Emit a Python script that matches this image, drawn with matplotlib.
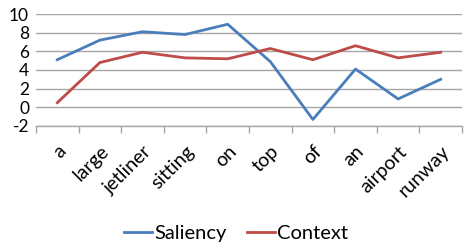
import matplotlib
matplotlib.use("Agg")
import matplotlib.pyplot as plt
import numpy as np

words = ["a", "large", "jetliner", "sitting", "on", "top", "of", "an", "airport", "runway"]
saliency = [5.1, 7.2, 8.1, 7.8, 8.9, 4.9, -1.3, 4.1, 0.9, 3.0]
context = [0.5, 4.8, 5.9, 5.3, 5.2, 6.3, 5.1, 6.6, 5.3, 5.9]
yticks = [-2, 0, 2, 4, 6, 8, 10]

plt.rcParams['font.family'] = ['Lato', 'DejaVu Sans']

fig = plt.figure(figsize=(4.69, 2.5), dpi=100)
ax = fig.add_axes([36/469, 1-126/250, (462-36)/469, (126-14)/250])
x = np.arange(len(words))
ax.plot(x, saliency, color="#4A7EBB", lw=2.0, label="Saliency")
ax.plot(x, context, color="#BE4B48", lw=2.0, label="Context")

ax.set_xlim(-0.5, len(words) - 0.5)
ax.set_ylim(-2, 10)
ax.set_yticks(yticks)
ax.set_yticklabels([str(v) for v in yticks], fontsize=12.5)
ax.tick_params(axis='y', length=0, pad=5)
ax.yaxis.grid(True, color="#A6A6A6", lw=1.0)
ax.set_axisbelow(True)

ax.set_xticks(x)
ax.set_xticklabels(words, rotation=45, ha='right', rotation_mode='anchor', fontsize=14)
ax.set_xticks(np.arange(-0.5, len(words)), minor=True)
ax.tick_params(axis='x', which='major', length=0, pad=12)
ax.tick_params(axis='x', which='minor', length=5, color="#A6A6A6", width=1.0)

for s in ['top', 'right', 'left']:
    ax.spines[s].set_visible(False)
ax.spines['bottom'].set_color("#A6A6A6")
ax.spines['bottom'].set_linewidth(1.0)

fig.legend(loc='center', bbox_to_anchor=(236/469, 1-233/250), ncol=2, frameon=False,
           fontsize=14.5, handlelength=1.4, handletextpad=0.1, columnspacing=1.0)

fig.savefig("out.png", dpi=100)
